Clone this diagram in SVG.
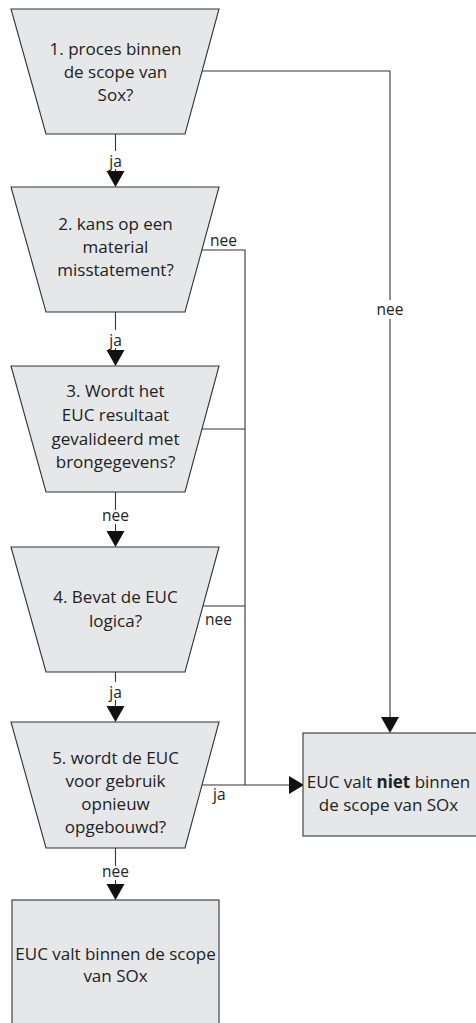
<svg xmlns="http://www.w3.org/2000/svg" width="476" height="1023" viewBox="0 0 476 1023">
<style>
.shape{fill:#e6e7e8;stroke:#333;stroke-width:1.1}
.t{font-family:"Open Sans","Liberation Sans",sans-serif;font-size:17px;fill:#222;text-anchor:middle}
.l{font-family:"Open Sans","Liberation Sans",sans-serif;font-size:15.5px;fill:#222;text-anchor:middle}
.lbl{font-family:"Open Sans","Liberation Sans",sans-serif;font-size:15.5px;fill:#222}
.c{fill:none;stroke:#333;stroke-width:1.1}
.ah{fill:#111}
.bg{fill:#fff}
</style>
<rect width="476" height="1023" fill="#fff"/>
<g id="connectors">
<path class="c" d="M115.5,134 V172"/>
<polygon class="ah" points="106.5,171 124.5,171 115.5,187"/>
<path class="c" d="M115.5,312 V351"/>
<polygon class="ah" points="106.5,350 124.5,350 115.5,366"/>
<path class="c" d="M115.5,492 V532"/>
<polygon class="ah" points="106.5,531 124.5,531 115.5,547"/>
<path class="c" d="M115.5,672 V707"/>
<polygon class="ah" points="106.5,706 124.5,706 115.5,722"/>
<path class="c" d="M115.5,848 V885"/>
<polygon class="ah" points="106.5,884 124.5,884 115.5,900"/>
<path class="c" d="M202,71 H390 V719"/>
<polygon class="ah" points="381,717 399,717 390,733"/>
<path class="c" d="M202,250 H245 V785"/>
<path class="c" d="M202,429 H245"/>
<path class="c" d="M203,606 H245"/>
<path class="c" d="M202,785 H291"/>
<polygon class="ah" points="289,776 289,794 304,785"/>
<rect class="bg" x="106" y="151" width="19" height="18"/>
<text class="l" x="115.5" y="167">ja</text>
<rect class="bg" x="106" y="330" width="19" height="18"/>
<text class="l" x="115.5" y="346">ja</text>
<rect class="bg" x="99" y="510" width="33" height="14"/>
<text class="l" x="115.5" y="521">nee</text>
<rect class="bg" x="106" y="682" width="19" height="18"/>
<text class="l" x="115.5" y="698">ja</text>
<rect class="bg" x="99" y="866" width="33" height="14"/>
<text class="l" x="115.5" y="877">nee</text>
<rect class="bg" x="375" y="300" width="30" height="19"/>
<text class="l" x="390" y="315">nee</text>
<text class="lbl" x="210" y="246">nee</text>
<text class="lbl" x="205" y="625">nee</text>
<text class="lbl" x="213" y="800">ja</text>
</g>
<g id="node1">
<polygon class="shape" points="11,9 219,9 185,134 46,134"/>
<text class="t" x="115.5" y="55">1. proces binnen</text>
<text class="t" x="115.5" y="78">de scope van</text>
<text class="t" x="115.5" y="101">Sox?</text>
</g>
<g id="node2">
<polygon class="shape" points="11,187 219,187 185,312 46,312"/>
<text class="t" x="115.5" y="230">2. kans op een</text>
<text class="t" x="115.5" y="253">material</text>
<text class="t" x="115.5" y="276">misstatement?</text>
</g>
<g id="node3">
<polygon class="shape" points="11,366 219,366 185,492 46,492"/>
<text class="t" x="115.5" y="397">3. Wordt het</text>
<text class="t" x="115.5" y="421">EUC resultaat</text>
<text class="t" x="115.5" y="445">gevalideerd met</text>
<text class="t" x="115.5" y="468">brongegevens?</text>
</g>
<g id="node4">
<polygon class="shape" points="11,547 219,547 185,672 46,672"/>
<text class="t" x="115.5" y="603">4. Bevat de EUC</text>
<text class="t" x="115.5" y="627">logica?</text>
</g>
<g id="node5">
<polygon class="shape" points="11,722 219,722 185,848 46,848"/>
<text class="t" x="115.5" y="764">5. wordt de EUC</text>
<text class="t" x="115.5" y="787">voor gebruik</text>
<text class="t" x="115.5" y="810">opnieuw</text>
<text class="t" x="115.5" y="833">opgebouwd?</text>
</g>
<g id="node-niet">
<rect class="shape" x="303" y="733" width="176" height="103"/>
<text class="t" x="388.5" y="788">EUC valt <tspan font-weight="bold">niet</tspan> binnen</text>
<text class="t" x="388.5" y="811">de scope van SOx</text>
</g>
<g id="node-binnen">
<rect class="shape" x="12" y="900" width="207" height="130"/>
<text class="t" x="115.5" y="960">EUC valt binnen de scope</text>
<text class="t" x="115.5" y="982">van SOx</text>
</g>
</svg>
